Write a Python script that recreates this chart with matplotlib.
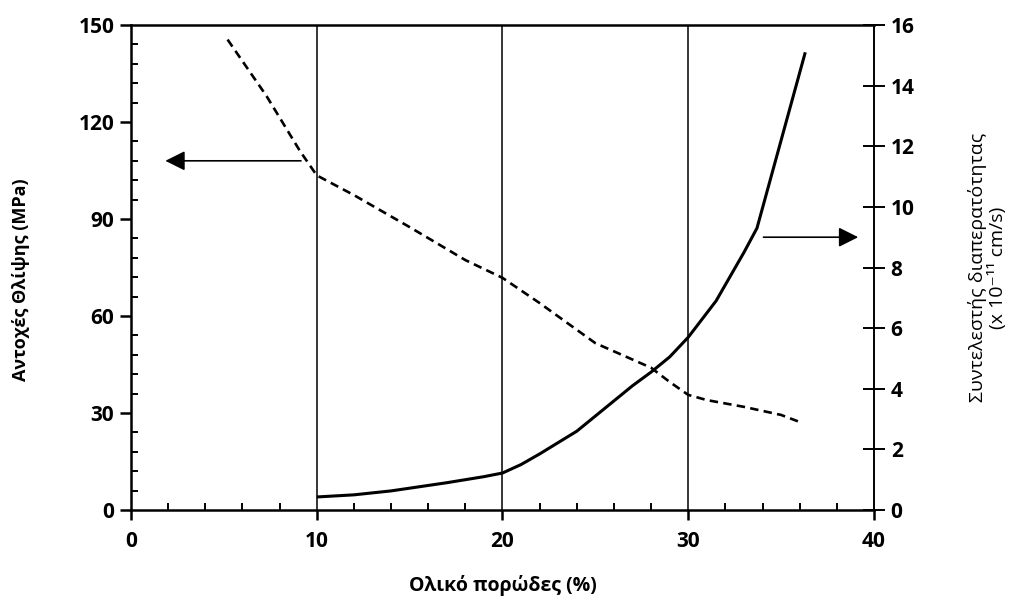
import numpy as np
import matplotlib.pyplot as plt
from matplotlib.ticker import MultipleLocator

plt.rcParams['font.family'] = ['Open Sans', 'DejaVu Sans']

# Αντοχή θλίψης (MPa) - διακεκομμένη καμπύλη, αριστερός άξονας
por_strength = [5.2, 7.3, 9.1, 10, 12, 15, 18, 20, 22, 25, 28, 29, 30, 31, 33, 35, 36.1]
strength = [145.5, 128, 111, 103.5, 97.4, 87.5, 77.3, 71.8, 64, 51.6, 44, 39.6, 35.6, 34, 31.9, 29.4, 27]

# Συντελεστής διαπερατότητας (x 10^-11 cm/s) - συνεχής καμπύλη, δεξιός άξονας
por_perm = [10, 12, 14, 17, 19, 20, 21, 22, 24, 25, 26, 27, 28, 29, 30, 31.5, 33, 33.7, 35, 36.3]
perm = [0.43, 0.5, 0.63, 0.9, 1.1, 1.22, 1.5, 1.85, 2.6, 3.1, 3.6, 4.1, 4.55, 5.05, 5.7, 6.9, 8.5, 9.3, 12.2, 15.1]

fig = plt.figure(figsize=(10.17, 6), dpi=100)
ax = fig.add_axes([0.1288, 0.15, 0.7306, 0.8083])
ax2 = ax.twinx()

for xv in [10, 20, 30]:
    ax.axvline(xv, color='black', lw=1.1, zorder=1)

ax.plot(por_strength, strength, color='black', lw=1.9, dashes=(3.2, 2.0), zorder=3)
ax2.plot(por_perm, perm, color='black', lw=2.2, solid_capstyle='butt',
         solid_joinstyle='round', zorder=3)

ax.set_xlim(0, 40)
ax.set_ylim(0, 150)
ax2.set_ylim(0, 16)

# βέλη που δείχνουν τον άξονα κάθε καμπύλης
ax.annotate('', xy=(1.7, 108), xytext=(9.3, 108),
            arrowprops=dict(arrowstyle='-|>', color='black', lw=1.2, mutation_scale=30))
ax2.annotate('', xy=(39.3, 9.0), xytext=(33.9, 9.0),
             arrowprops=dict(arrowstyle='-|>', color='black', lw=1.2, mutation_scale=30))

ax.xaxis.set_major_locator(MultipleLocator(10))
ax.xaxis.set_minor_locator(MultipleLocator(2))
ax.yaxis.set_major_locator(MultipleLocator(30))
ax.yaxis.set_minor_locator(MultipleLocator(6))
ax2.yaxis.set_major_locator(MultipleLocator(2))

ax.tick_params(axis='x', which='major', direction='out', length=7, width=1.8, labelsize=15, pad=8)
ax.tick_params(axis='x', which='minor', direction='in', length=5, width=1.4)
ax.tick_params(axis='y', which='major', direction='out', length=8, width=1.8, labelsize=15, pad=4)
ax.tick_params(axis='y', which='minor', direction='in', length=5, width=1.4)
ax2.tick_params(axis='y', which='major', direction='inout', length=16, width=1.4, labelsize=15, pad=4)
ax.tick_params(top=False)

for lab in ax.get_xticklabels() + ax.get_yticklabels() + ax2.get_yticklabels():
    lab.set_fontweight('bold')

for sp in ['left', 'bottom', 'top']:
    ax.spines[sp].set_linewidth(1.8)
ax.spines['right'].set_visible(False)
ax2.spines['left'].set_visible(False)
ax2.spines['bottom'].set_visible(False)
ax2.spines['top'].set_visible(False)
ax2.spines['right'].set_linewidth(1.4)

ax.set_xlabel('Ολικό πορώδες (%)', fontsize=14, fontweight='bold')
ax.xaxis.set_label_coords(0.5, -0.134)
ax.set_ylabel('Αντοχές Θλίψης (MPa)', fontsize=13, fontweight='bold')
ax.yaxis.set_label_coords(-0.136, 0.474)
ax2.set_ylabel('Συντελεστής διαπερατότητας\n(x 10⁻¹¹ cm/s)', fontsize=14,
               rotation=90, linespacing=1.05)
ax2.yaxis.set_label_coords(1.127, 0.5)

fig.savefig('out.png', dpi=100)
